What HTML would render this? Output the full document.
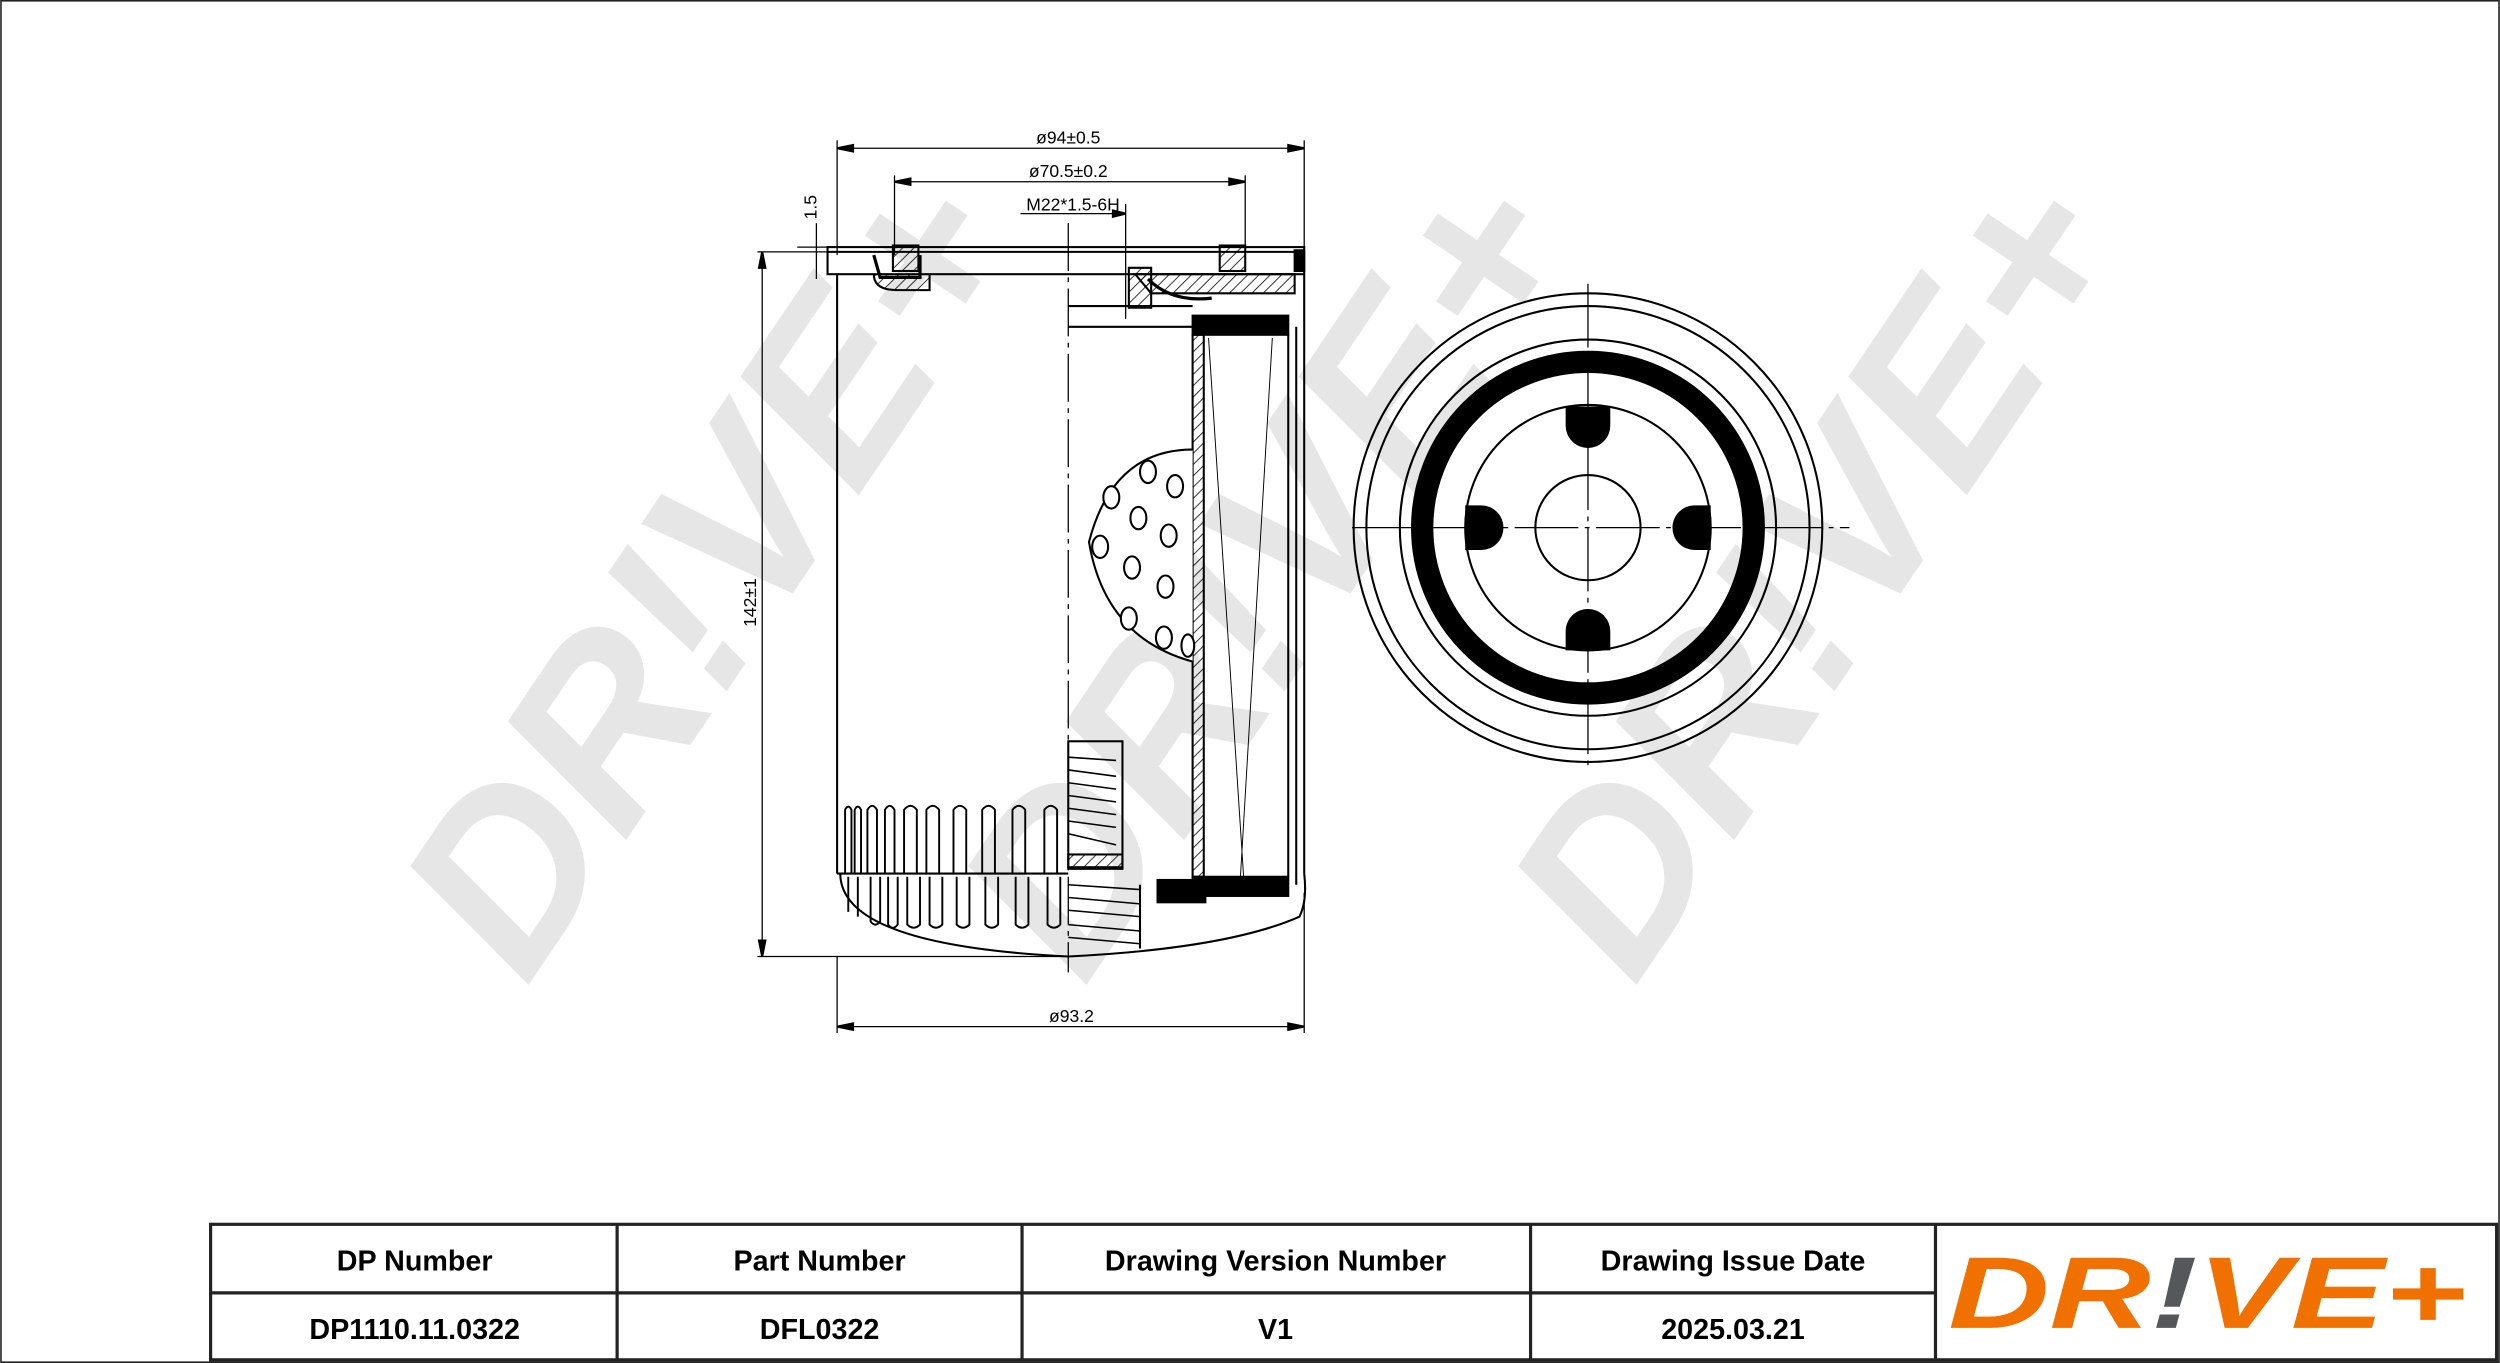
<!DOCTYPE html>
<html><head><style>html,body{margin:0;padding:0;background:#fff}svg{display:block}</style></head>
<body>
<svg width="2500" height="1363" viewBox="0 0 1568 855" xmlns="http://www.w3.org/2000/svg" font-family="Liberation Sans, sans-serif">
<rect x="0.5" y="0.5" width="1567" height="854" fill="#fff" stroke="#222" stroke-width="1"/>
<defs>
<pattern id="h" width="5" height="5" patternUnits="userSpaceOnUse" patternTransform="rotate(45)"><line x1="0" y1="0" x2="0" y2="5" stroke="#000" stroke-width="1"/></pattern>
</defs>
<!-- watermarks -->
<g fill="#e6e6e6" font-weight="bold" font-style="italic" font-size="150">
<text transform="translate(330,620) rotate(-56)" textLength="560" lengthAdjust="spacingAndGlyphs">DR!VE+</text>
<text transform="translate(680,620) rotate(-56)" textLength="560" lengthAdjust="spacingAndGlyphs">DR!VE+</text>
<text transform="translate(1025,620) rotate(-56)" textLength="560" lengthAdjust="spacingAndGlyphs">DR!VE+</text>
</g>
<g stroke="#000" fill="none" stroke-width="1.3">
<!-- dimensions -->
<line x1="525" y1="88" x2="525" y2="160" stroke-width="0.8"/>
<line x1="818" y1="88" x2="818" y2="160" stroke-width="0.8"/>
<line x1="525" y1="93" x2="818" y2="93" stroke-width="0.8"/>
<path d="M525 93 l10 -2 v4z M818 93 l-10 -2 v4z" fill="#000"/>
<line x1="561" y1="110" x2="561" y2="160" stroke-width="0.8"/>
<line x1="781" y1="110" x2="781" y2="160" stroke-width="0.8"/>
<line x1="561" y1="114" x2="781" y2="114" stroke-width="0.8"/>
<path d="M561 114 l10 -2 v4z M781 114 l-10 -2 v4z" fill="#000"/>
<line x1="640" y1="134" x2="706" y2="134" stroke-width="0.8"/>
<line x1="706" y1="128" x2="706" y2="200" stroke-width="0.8"/>
<path d="M706 134 l-8 -2 v4z" fill="#000"/>
<line x1="475" y1="158" x2="525" y2="158" stroke-width="0.8"/>
<line x1="475" y1="600" x2="670" y2="600" stroke-width="0.8"/>
<line x1="478" y1="158" x2="478" y2="600" stroke-width="0.8"/>
<path d="M478 158 l-2 10 h4z M478 600 l-2 -10 h4z" fill="#000"/>
<line x1="500" y1="155" x2="525" y2="155" stroke-width="0.8"/>
<line x1="512" y1="140" x2="512" y2="175" stroke-width="0.8"/>
<line x1="525" y1="600" x2="525" y2="648" stroke-width="0.8"/>
<line x1="818" y1="560" x2="818" y2="648" stroke-width="0.8"/>
<line x1="525" y1="644" x2="818" y2="644" stroke-width="0.8"/>
<path d="M525 644 l10 -2 v4z M818 644 l-10 -2 v4z" fill="#000"/>
<!-- body -->
<rect x="519" y="155" width="299" height="17"/>
<line x1="519" y1="158" x2="818" y2="158"/>
<line x1="525" y1="172" x2="525" y2="548"/>
<line x1="818" y1="172" x2="818" y2="548"/>
<rect x="812" y="157" width="6" height="13" fill="#000"/>
<rect x="560" y="154" width="16" height="16" fill="url(#h)"/>
<rect x="765" y="154" width="16" height="16" fill="url(#h)"/>
<path d="M548 160 l4 14 h25 v-14" stroke-width="2"/>
<path d="M548 172 q0 10 15 10 h20 v-10" fill="url(#h)"/>
<path d="M712 172 h100 v12 h-90z" fill="url(#h)"/>
<path d="M708 168 h14 v25 h-14z" fill="url(#h)"/>
<path d="M720 175 q15 15 40 12" stroke-width="2"/>
<line x1="670" y1="140" x2="670" y2="610" stroke-dasharray="30 4 3 4" stroke-width="0.8"/>
<line x1="670" y1="192" x2="748" y2="192"/>
<line x1="670" y1="205" x2="748" y2="205"/>
<!-- element -->
<rect x="748" y="198" width="60" height="12" fill="#000"/>
<rect x="748" y="550" width="60" height="12" fill="#000"/>
<rect x="726" y="552" width="30" height="14" fill="#000"/>
<rect x="748" y="210" width="7" height="340" fill="url(#h)"/>
<line x1="808" y1="210" x2="808" y2="550"/>
<line x1="813" y1="205" x2="813" y2="555"/>
<path d="M758 212 L780 550 M798 212 L778 550" stroke-width="0.6"/>
<!-- perforated tube -->
<path d="M748 282 q-50 0 -65 58 q10 60 65 75" fill="#fff"/>
<g fill="#fff" stroke-width="1.3">
<ellipse cx="720" cy="296" rx="5" ry="7"/><ellipse cx="737" cy="305" rx="5" ry="7"/>
<ellipse cx="697" cy="312" rx="5" ry="7"/><ellipse cx="714" cy="325" rx="5" ry="7"/><ellipse cx="733" cy="336" rx="5" ry="7"/>
<ellipse cx="690" cy="343" rx="5" ry="7"/><ellipse cx="710" cy="356" rx="5" ry="7"/><ellipse cx="731" cy="368" rx="5" ry="7"/>
<ellipse cx="708" cy="388" rx="5" ry="7"/><ellipse cx="730" cy="400" rx="5" ry="7"/><ellipse cx="745" cy="405" rx="4" ry="7"/>
</g>
<!-- bypass valve -->
<rect x="670" y="465" width="34" height="80"/>
<g stroke-width="1">
<line x1="670" y1="475" x2="700" y2="477"/><line x1="670" y1="483" x2="700" y2="487"/><line x1="670" y1="491" x2="700" y2="495"/>
<line x1="670" y1="499" x2="700" y2="503"/><line x1="670" y1="507" x2="700" y2="511"/><line x1="670" y1="515" x2="700" y2="519"/>
<line x1="670" y1="523" x2="700" y2="530"/>
</g>
<rect x="670" y="536" width="34" height="8" fill="url(#h)"/>
<g stroke-width="1">
<line x1="670" y1="555" x2="715" y2="558"/><line x1="670" y1="563" x2="715" y2="567"/><line x1="670" y1="571" x2="715" y2="575"/>
<line x1="670" y1="580" x2="715" y2="584"/><line x1="670" y1="588" x2="715" y2="592"/>
</g>
<line x1="715" y1="555" x2="715" y2="595"/>
<!-- ribs -->
<line x1="525" y1="548" x2="670" y2="548"/>
<path d="M527 548 q0 45 143 52 q100 -5 145 -25 q5 -10 3 -27" />
<g stroke-width="1.2">
<path d="M530 548 v-40 q2 -4 4 0 v40"/>
<path d="M536 548 v-40 q2 -4 4 0 v40"/>
<path d="M544 548 v-40 q3 -5 6 0 v40"/>
<path d="M555 548 v-40 q3 -5 6 0 v40"/>
<path d="M567 548 v-40 q4 -5 8 0 v40"/>
<path d="M581 548 v-40 q4 -5 8 0 v40"/>
<path d="M598 548 v-40 q4 -5 8 0 v40"/>
<path d="M616 548 v-40 q4 -5 8 0 v40"/>
<path d="M635 548 v-40 q4 -5 8 0 v40"/>
<path d="M655 548 v-40 q4 -5 8 0 v40"/>
<path d="M532 550 v22 M538 550 v25 M546 550 v28 q3 4 6 0 v-28 M557 550 v30 q3 4 6 0 v-30 M569 550 v30 q4 4 8 0 v-30 M583 550 v30 q4 4 8 0 v-30 M600 550 v30 q4 4 8 0 v-30 M618 550 v30 q4 4 8 0 v-30 M637 550 v30 q4 4 8 0 v-30 M657 550 v30 q4 4 8 0 v-30"/>
</g>
<!-- front view -->
<line x1="848" y1="331" x2="1160" y2="331" stroke-width="0.8" stroke-dasharray="40 4 3 4"/>
<line x1="996" y1="178" x2="996" y2="482" stroke-width="0.8" stroke-dasharray="40 4 3 4"/>
<circle cx="996" cy="331" r="147"/>
<circle cx="996" cy="331" r="139"/>
<circle cx="996" cy="331" r="118"/>
<circle cx="996" cy="331" r="104" stroke-width="14"/>
<circle cx="996" cy="331" r="77"/>
<circle cx="996" cy="331" r="33"/>
<g fill="#000" stroke="none">
<path d="M982 255 h28 v12 a14 14 0 0 1 -28 0z"/>
<path d="M982 408 h28 v-12 a14 14 0 0 0 -28 0z"/>
<path d="M919 317 v28 h10 a14 14 0 0 0 0 -28z"/>
<path d="M1073 317 v28 h-10 a14 14 0 0 1 0 -28z"/>
</g>
</g>
<g font-size="11" fill="#000" font-family="Liberation Sans Narrow, Liberation Sans, sans-serif">
<text x="670" y="90" text-anchor="middle">ø94±0.5</text>
<text x="670" y="111" text-anchor="middle">ø70.5±0.2</text>
<text x="673" y="132" text-anchor="middle">M22*1.5-6H</text>
<text x="672" y="641" text-anchor="middle">ø93.2</text>
<text transform="translate(474,378) rotate(-90)" text-anchor="middle">142±1</text>
<text transform="translate(512,130) rotate(-90)" text-anchor="middle">1.5</text>
</g>
<!-- table -->
<g stroke="#222" stroke-width="2" fill="none">
<rect x="132" y="768" width="1434" height="85"/>
<line x1="132" y1="811" x2="1214" y2="811"/>
<line x1="387" y1="768" x2="387" y2="853"/>
<line x1="641" y1="768" x2="641" y2="853"/>
<line x1="960" y1="768" x2="960" y2="853"/>
<line x1="1214" y1="768" x2="1214" y2="853"/>
</g>
<g font-size="18" font-weight="bold" text-anchor="middle" fill="#000">
<text x="260" y="797">DP Number</text>
<text x="514" y="797">Part Number</text>
<text x="800" y="797">Drawing Version Number</text>
<text x="1087" y="797">Drawing Issue Date</text>
<text x="260" y="840">DP1110.11.0322</text>
<text x="514" y="840">DFL0322</text>
<text x="800" y="840">V1</text>
<text x="1087" y="840">2025.03.21</text>
</g>
<text x="1222" y="833" font-size="64" font-weight="bold" font-style="italic" fill="#f07000" textLength="325" lengthAdjust="spacingAndGlyphs">DR<tspan fill="#55585a">!</tspan>VE+</text>
</svg>
</body></html>
